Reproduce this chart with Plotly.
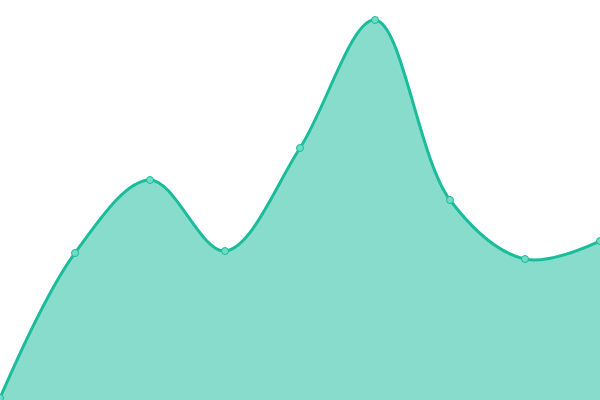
import plotly.graph_objects as go

# --- DATA ---
x_values = [0, 1, 2, 3, 4, 5, 6, 7, 8]
y_values = [0.5, 36.75, 55, 37.25, 63, 95, 50, 35.25, 39.75]

LINE_COLOR = "#1abc9c"
FILL_COLOR = "rgba(26,188,156,0.52)"

fig = go.Figure()
fig.add_trace(go.Scatter(
    x=x_values,
    y=y_values,
    mode="lines+markers",
    fill="tozeroy",
    fillcolor=FILL_COLOR,
    line=dict(color=LINE_COLOR, width=3, shape="spline", smoothing=1),
    marker=dict(size=7, color="#6fdcc4", line=dict(color=LINE_COLOR, width=1)),
    hoverinfo="x+y",
))

fig.update_layout(
    width=600,
    height=400,
    margin=dict(l=0, r=0, t=0, b=0),
    paper_bgcolor="white",
    plot_bgcolor="white",
    showlegend=False,
    xaxis=dict(range=[0, 8], visible=False, fixedrange=True),
    yaxis=dict(range=[0, 100], visible=False, fixedrange=True),
)

# drop the default 8px page margin so the chart fills the window
fig.write_html("out.html", config={"displayModeBar": False},
               post_script="document.body.style.margin='0';")
